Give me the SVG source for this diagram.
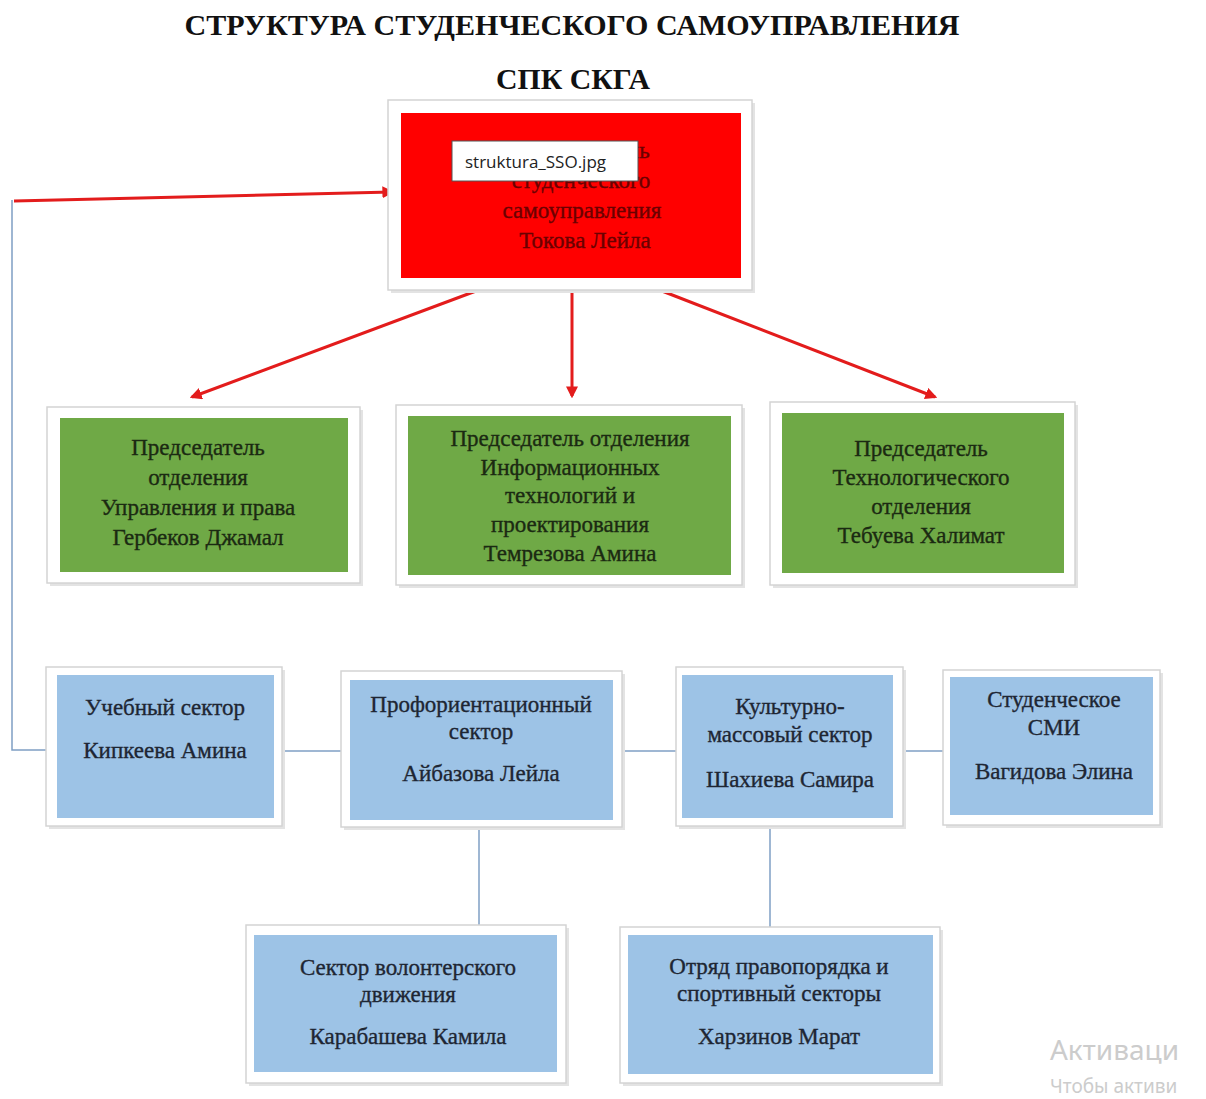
<svg xmlns="http://www.w3.org/2000/svg" width="1206" height="1099" viewBox="0 0 1206 1099">
<defs>
<style>
.frame{fill:#ffffff;stroke:#d4d4d4;stroke-width:1.5}
.shadow{fill:#e3e3e3}
.red{fill:#ff0000}
.green{fill:#6fa946}
.blue{fill:#9dc3e6}
.t{font-family:"Liberation Serif","Times New Roman",serif;font-size:23px;text-anchor:middle;stroke-width:0.35}
.tr{fill:#6b0000;stroke:#6b0000}
.tg{fill:#1b2a12;stroke:#1b2a12}
.tb{fill:#1e2633;stroke:#1e2633}
.title{font-family:"Liberation Serif","Times New Roman",serif;font-weight:bold;font-size:29px;fill:#111;text-anchor:middle}
.arr{stroke:#e31c1c;stroke-width:3;fill:none;marker-end:url(#ah)}
.bl{stroke:#7f9fc4;stroke-width:1.5;fill:none}
</style>
<marker id="ah" viewBox="0 0 10 10" refX="8" refY="5" markerWidth="4" markerHeight="4" orient="auto" markerUnits="strokeWidth">
<path d="M0,0 L10,5 L0,10 z" fill="#e31c1c"/>
</marker>
</defs>
<rect width="1206" height="1099" fill="#ffffff"/>

<g id="title">
<text class="title" x="572" y="35" textLength="775" lengthAdjust="spacingAndGlyphs">СТРУКТУРА СТУДЕНЧЕСКОГО САМОУПРАВЛЕНИЯ</text>
<text class="title" x="573" y="89" textLength="154" lengthAdjust="spacingAndGlyphs">СПК СКГА</text>
</g>

<g id="connectors">
<polyline class="bl" points="48,750 12,750 12,200"/>
<line class="arr" x1="14" y1="201" x2="392" y2="192"/>
<line class="arr" x1="476" y1="291" x2="192" y2="397"/>
<line class="arr" x1="572" y1="291" x2="572" y2="396"/>
<line class="arr" x1="662" y1="291" x2="935" y2="397"/>
<line class="bl" x1="282" y1="751" x2="341" y2="751"/>
<line class="bl" x1="622" y1="751" x2="676" y2="751"/>
<line class="bl" x1="903" y1="751" x2="943" y2="751"/>
<line class="bl" x1="479" y1="827" x2="479" y2="925"/>
<line class="bl" x1="770" y1="827" x2="770" y2="927"/>
</g>

<g id="node-head">
<rect class="shadow" x="391" y="103" width="364" height="190"/>
<rect class="frame" x="388" y="100" width="364" height="190"/>
<rect class="red" x="401" y="113" width="340" height="165"/>
<text class="t tr" x="583" y="158">Председатель</text>
<text class="t tr" x="581" y="188">студенческого</text>
<text class="t tr" x="582" y="218">самоуправления</text>
<text class="t tr" x="585" y="248">Токова Лейла</text>
</g>

<g id="tooltip">
<rect x="452" y="141" width="186" height="40" fill="#ffffff" stroke="#555555" stroke-width="1"/>
<text x="465" y="168" font-family="'Open Sans','Noto Sans',sans-serif" font-size="17" fill="#222">struktura_SSO.jpg</text>
</g>

<g id="node-g1">
<rect class="shadow" x="50" y="410" width="313" height="176"/>
<rect class="frame" x="47" y="407" width="313" height="176"/>
<rect class="green" x="60" y="418" width="288" height="154"/>
<text class="t tg" x="198" y="455">Председатель</text>
<text class="t tg" x="198" y="485">отделения</text>
<text class="t tg" x="198" y="515">Управления и права</text>
<text class="t tg" x="198" y="545">Гербеков Джамал</text>
</g>

<g id="node-g2">
<rect class="shadow" x="399" y="408" width="346" height="180"/>
<rect class="frame" x="396" y="405" width="346" height="180"/>
<rect class="green" x="408" y="416" width="323" height="159"/>
<text class="t tg" x="570" y="446">Председатель отделения</text>
<text class="t tg" x="570" y="475">Информационных</text>
<text class="t tg" x="570" y="503">технологий и</text>
<text class="t tg" x="570" y="532">проектирования</text>
<text class="t tg" x="570" y="561">Темрезова Амина</text>
</g>

<g id="node-g3">
<rect class="shadow" x="773" y="405" width="305" height="183"/>
<rect class="frame" x="770" y="402" width="305" height="183"/>
<rect class="green" x="782" y="413" width="282" height="160"/>
<text class="t tg" x="921" y="456">Председатель</text>
<text class="t tg" x="921" y="485">Технологического</text>
<text class="t tg" x="921" y="514">отделения</text>
<text class="t tg" x="921" y="543">Тебуева Халимат</text>
</g>

<g id="node-b1">
<rect class="shadow" x="49" y="670" width="236" height="159"/>
<rect class="frame" x="46" y="667" width="236" height="159"/>
<rect class="blue" x="57" y="675" width="217" height="143"/>
<text class="t tb" x="165" y="715">Учебный сектор</text>
<text class="t tb" x="165" y="758">Кипкеева Амина</text>
</g>

<g id="node-b2">
<rect class="shadow" x="344" y="674" width="281" height="156"/>
<rect class="frame" x="341" y="671" width="281" height="156"/>
<rect class="blue" x="350" y="680" width="263" height="140"/>
<text class="t tb" x="481" y="712">Профориентационный</text>
<text class="t tb" x="481" y="739">сектор</text>
<text class="t tb" x="481" y="781">Айбазова Лейла</text>
</g>

<g id="node-b3">
<rect class="shadow" x="679" y="670" width="227" height="159"/>
<rect class="frame" x="676" y="667" width="227" height="159"/>
<rect class="blue" x="682" y="675" width="211" height="143"/>
<text class="t tb" x="790" y="714">Культурно-</text>
<text class="t tb" x="790" y="742">массовый сектор</text>
<text class="t tb" x="790" y="787">Шахиева Самира</text>
</g>

<g id="node-b4">
<rect class="shadow" x="946" y="673" width="217" height="155"/>
<rect class="frame" x="943" y="670" width="217" height="155"/>
<rect class="blue" x="950" y="677" width="203" height="138"/>
<text class="t tb" x="1054" y="707">Студенческое</text>
<text class="t tb" x="1054" y="735">СМИ</text>
<text class="t tb" x="1054" y="779">Вагидова Элина</text>
</g>

<g id="node-b5">
<rect class="shadow" x="249" y="928" width="320" height="158"/>
<rect class="frame" x="246" y="925" width="320" height="158"/>
<rect class="blue" x="254" y="935" width="303" height="137"/>
<text class="t tb" x="408" y="975">Сектор волонтерского</text>
<text class="t tb" x="408" y="1002">движения</text>
<text class="t tb" x="408" y="1044">Карабашева Камила</text>
</g>

<g id="node-b6">
<rect class="shadow" x="623" y="930" width="320" height="156"/>
<rect class="frame" x="620" y="927" width="320" height="156"/>
<rect class="blue" x="628" y="935" width="305" height="139"/>
<text class="t tb" x="779" y="974">Отряд правопорядка и</text>
<text class="t tb" x="779" y="1001">спортивный секторы</text>
<text class="t tb" x="779" y="1044">Харзинов Марат</text>
</g>

<g id="watermark" font-family="'Noto Sans','Open Sans',sans-serif" fill="#cccccc">
<text x="1050" y="1060" font-size="28">Активаци</text>
<text x="1050" y="1093" font-size="19">Чтобы активи</text>
</g>
</svg>
